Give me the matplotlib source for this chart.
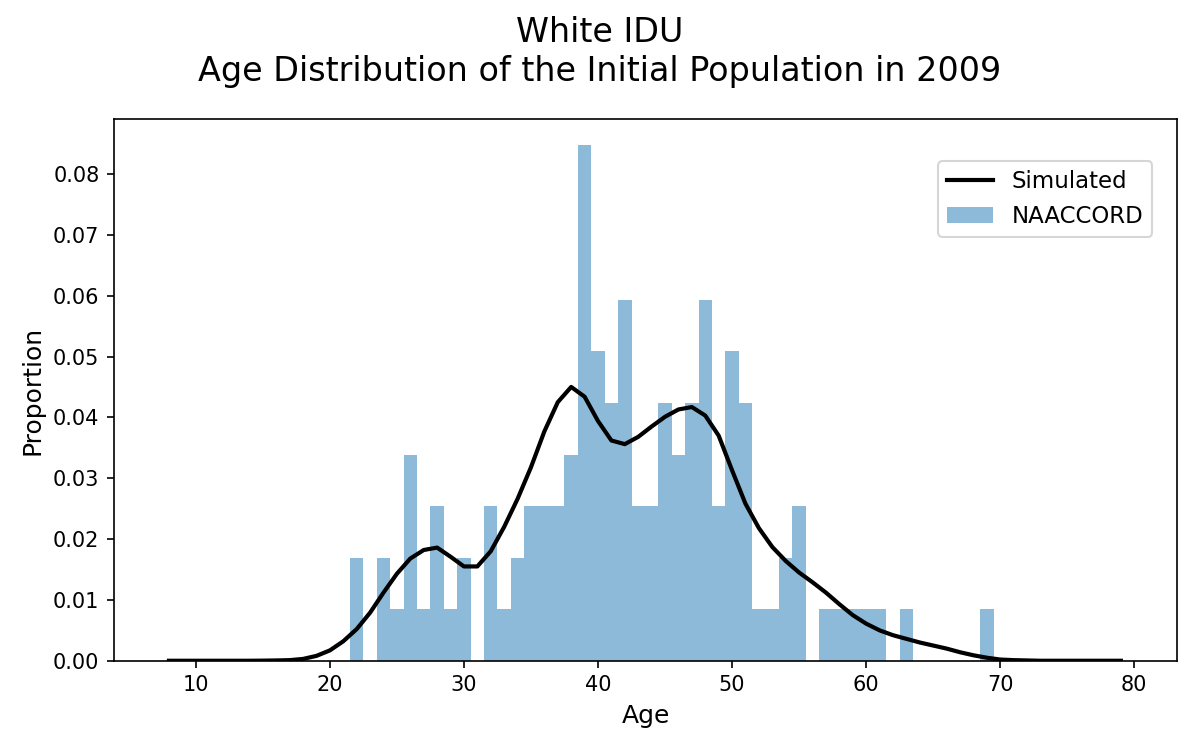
import matplotlib
matplotlib.use('Agg')
import matplotlib.pyplot as plt
import numpy as np

# ---NAACCORD counts by age (n = 118)
obs_age = [22, 24, 25, 26, 27, 28, 29, 30, 32, 33, 34, 35, 36, 37, 38, 39, 40,
           41, 42, 43, 44, 45, 46, 47, 48, 49, 50, 51, 52, 53, 54, 55, 57, 58,
           59, 60, 61, 63, 69]
obs_count = [2, 2, 1, 4, 1, 3, 1, 2, 3, 1, 2, 3, 3, 3, 4, 10, 6,
             5, 7, 3, 3, 5, 4, 5, 7, 3, 6, 5, 1, 1, 2, 3, 1, 1,
             1, 1, 1, 1, 1]

# ---simulated age distribution
sim_age = list(range(8, 80))
sim_prop = [0, 0, 0, 0, 0, 0, 0, 0.00002, 0.00005, 0.0001, 0.0003, 0.0008,
            0.0017, 0.0032, 0.0052, 0.0079, 0.0112, 0.0143, 0.0168, 0.0182,
            0.0186, 0.0171, 0.0155, 0.0155, 0.0180, 0.0220, 0.0266, 0.0318,
            0.0377, 0.0425, 0.0450, 0.0434, 0.0394, 0.0362, 0.0356, 0.0368,
            0.0385, 0.0401, 0.0413, 0.0417, 0.0403, 0.0370, 0.0313, 0.0258,
            0.0218, 0.0187, 0.0164, 0.0145, 0.0129, 0.0112, 0.0093, 0.0075,
            0.0061, 0.0050, 0.0042, 0.0036, 0.0030, 0.0025, 0.0020, 0.0014,
            0.0009, 0.0005, 0.0002, 0.0001, 0.00005, 0, 0, 0, 0, 0, 0, 0]

obs_prop = np.array(obs_count) / np.sum(obs_count)

fig = plt.figure(figsize=(8, 5), dpi=150)
ax = fig.add_axes([0.095, 0.119, 0.886, 0.722])
ax.plot(sim_age, sim_prop, color='black', lw=2, label='Simulated')
ax.bar(obs_age, obs_prop, width=1.0, color='tab:blue', alpha=0.5, label='NAACCORD')
ax.set_xlim(3.9, 83.2)
ax.set_ylim(0, 0.089)
ax.set_xlabel('Age', fontsize=12)
ax.set_ylabel('Proportion', fontsize=12)
fig.suptitle('White IDU\nAge Distribution of the Initial Population in 2009', fontsize=16, y=0.978)
ax.legend(loc='upper right', bbox_to_anchor=(0.9765, 0.9225), borderaxespad=0, fontsize=11)
fig.savefig('out.png', dpi=150)
